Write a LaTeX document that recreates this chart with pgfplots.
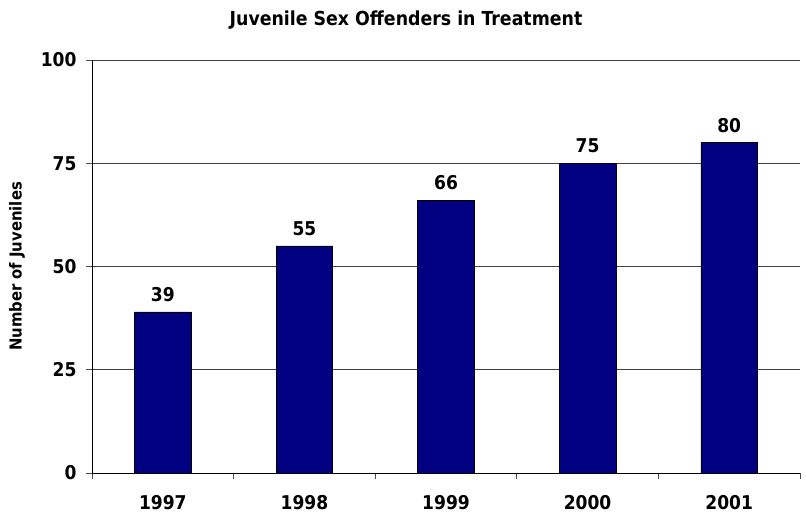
\documentclass[border=0pt]{standalone}
\usepackage{fontspec}
\setmainfont{DejaVu Sans Condensed}
\usepackage{pgfplots}
\pgfplotsset{compat=1.18}
\definecolor{barblue}{HTML}{000080}
\begin{document}
\begin{tikzpicture}
\path[use as bounding box] (-92bp,-44bp) rectangle (714bp,473bp);
\begin{axis}[
  scale only axis,
  width=708bp, height=413bp,
  xmin=-0.5, xmax=4.5,
  ymin=0, ymax=100,
  ytick={0,25,50,75,100},
  xtick={-0.5,0.5,1.5,2.5,3.5,4.5},
  x tick label as interval,
  xticklabels={1997,1998,1999,2000,2001},
  axis x line*=bottom,
  axis y line*=left,
  axis line style={black, line width=0.8bp, -},
  tick align=outside,
  major tick length=6bp,
  tick style={black!70, line width=0.8bp},
  ymajorgrids,
  grid style={black!75, line width=0.6bp},
  /pgf/number format/assume math mode=true,
  ticklabel style={font=\fontsize{19bp}{21bp}\selectfont\bfseries},
  yticklabel style={xshift=-6bp},
  xticklabel style={yshift=-13bp},
  every axis y label/.style={at={(axis description cs:0,0.5)}, xshift=-75bp, rotate=90, anchor=center, font=\fontsize{16.5bp}{18bp}\selectfont\bfseries},
  ylabel={Number of Juveniles},
  nodes near coords,
  every node near coord/.append style={font=\fontsize{19bp}{21bp}\selectfont\bfseries, anchor=south, inner sep=0pt, yshift=10bp},
  clip=false,
]
\addplot[ybar, bar width=0.4, fill=barblue, draw=black, line width=0.6bp] coordinates {(0,39) (1,55) (2,66) (3,75) (4,80)};
\end{axis}
\node[font=\fontsize{19.3bp}{21bp}\selectfont\bfseries] at (314bp,453bp) {Juvenile Sex Offenders in Treatment};
\end{tikzpicture}
\end{document}
